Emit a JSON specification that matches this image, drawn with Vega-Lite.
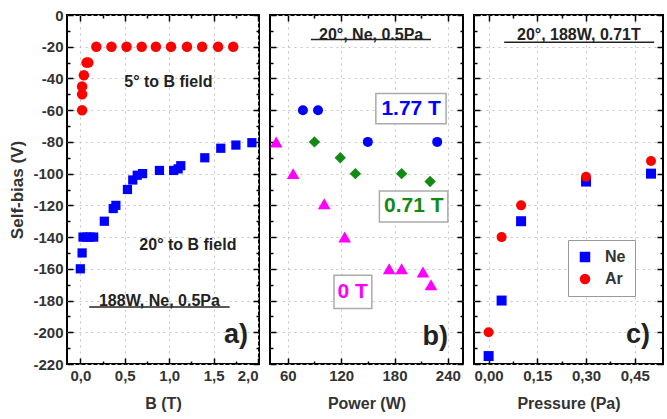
{
  "$schema": "https://vega.github.io/schema/vega-lite/v6.json",
  "background": "white",
  "padding": {"left": 7, "top": 7, "right": 0, "bottom": 0},
  "spacing": 11,
  "bounds": "flush",
  "resolve": {"scale": {"color": "independent", "shape": "independent"}, "legend": {"color": "independent", "shape": "independent"}},
  "config": {
    "font": "Liberation Sans",
    "view": {"stroke": "black", "strokeWidth": 2},
    "axis": {
      "domain": false,
      "labelFont": "Liberation Sans",
      "labelFontWeight": "bold",
      "labelFontSize": 15,
      "labelColor": "#333",
      "titleFont": "Liberation Sans",
      "titleFontWeight": "bold",
      "titleFontSize": 16,
      "titleColor": "#333",
      "tickColor": "black",
      "tickWidth": 1.5,
      "gridDash": [2, 4],
      "gridWidth": 1,
      "labelPadding": 10
    },
    "legend": {
      "labelFont": "Liberation Sans",
      "labelFontWeight": "bold",
      "labelFontSize": 16,
      "labelColor": "#333"
    },
    "text": {"font": "Liberation Sans", "fontWeight": "bold", "color": "#222"}
  },
  "datasets": {
    "a5": [
      {"B": 0.02, "V": -60}, {"B": 0.02, "V": -50}, {"B": 0.02, "V": -45}, {"B": 0.04, "V": -38},
      {"B": 0.07, "V": -30}, {"B": 0.09, "V": -30}, {"B": 0.18, "V": -20}, {"B": 0.35, "V": -20},
      {"B": 0.52, "V": -20}, {"B": 0.69, "V": -20}, {"B": 0.85, "V": -20}, {"B": 1.02, "V": -20},
      {"B": 1.2, "V": -20}, {"B": 1.37, "V": -20}, {"B": 1.55, "V": -20}, {"B": 1.72, "V": -20}
    ],
    "a20": [
      {"B": 0.0, "V": -160}, {"B": 0.02, "V": -150}, {"B": 0.03, "V": -140}, {"B": 0.07, "V": -140},
      {"B": 0.11, "V": -140}, {"B": 0.15, "V": -140}, {"B": 0.27, "V": -130}, {"B": 0.37, "V": -122},
      {"B": 0.4, "V": -120}, {"B": 0.53, "V": -110}, {"B": 0.59, "V": -104}, {"B": 0.64, "V": -101},
      {"B": 0.7, "V": -100}, {"B": 0.89, "V": -98}, {"B": 1.05, "V": -98}, {"B": 1.1, "V": -97},
      {"B": 1.13, "V": -95}, {"B": 1.4, "V": -90}, {"B": 1.58, "V": -84}, {"B": 1.75, "V": -82},
      {"B": 1.93, "V": -80.5}
    ],
    "aText": [
      {"x": 0.99, "y": -42, "t": "5° to B field"},
      {"x": 1.21, "y": -145, "t": "20° to B field"},
      {"x": 0.89, "y": -180, "t": "188W, Ne, 0.5Pa"}
    ],
    "aBig": [{"x": 1.75, "y": -202, "t": "a)"}],
    "aLine": [{"x": 0.1, "x2": 1.68, "y": -184}],
    "b177": [{"W": 77, "V": -60}, {"W": 94, "V": -60}, {"W": 150, "V": -80}, {"W": 228, "V": -80}],
    "b071": [{"W": 90, "V": -80}, {"W": 119, "V": -90}, {"W": 136, "V": -100}, {"W": 188, "V": -100}, {"W": 220, "V": -105}],
    "b0": [
      {"W": 47, "V": -80}, {"W": 66, "V": -100}, {"W": 101, "V": -119}, {"W": 124, "V": -140},
      {"W": 174, "V": -160}, {"W": 188, "V": -160}, {"W": 212, "V": -162}, {"W": 221, "V": -170}
    ],
    "bBox": [
      {"x": 159, "x2": 238, "y": -49.5, "y2": -68.5},
      {"x": 163, "x2": 240, "y": -111, "y2": -130.5},
      {"x": 112, "x2": 154.5, "y": -164, "y2": -185}
    ],
    "bLab": [
      {"x": 198.7, "y": -59, "t": "1.77 T"},
      {"x": 201.6, "y": -120.7, "t": "0.71 T"},
      {"x": 133, "y": -174.5, "t": "0 T"}
    ],
    "bText": [{"x": 153.7, "y": -12.6, "t": "20°, Ne, 0.5Pa"}],
    "bBig": [{"x": 225.7, "y": -203, "t": "b)"}],
    "bLine": [{"x": 86, "x2": 221, "y": -15.5}],
    "c": [
      {"P": 0.0, "V": -215, "gas": "Ne"}, {"P": 0.04, "V": -180, "gas": "Ne"}, {"P": 0.1, "V": -130, "gas": "Ne"},
      {"P": 0.3, "V": -105, "gas": "Ne"}, {"P": 0.5, "V": -100, "gas": "Ne"},
      {"P": 0.0, "V": -200, "gas": "Ar"}, {"P": 0.04, "V": -140, "gas": "Ar"}, {"P": 0.1, "V": -120, "gas": "Ar"},
      {"P": 0.3, "V": -102, "gas": "Ar"}, {"P": 0.5, "V": -92, "gas": "Ar"}
    ],
    "cText": [{"x": 0.278, "y": -12.6, "t": "20°,  188W, 0.71T"}],
    "cBig": [{"x": 0.46, "y": -202, "t": "c)"}],
    "cLine": [{"x": 0.048, "x2": 0.51, "y": -17.2}]
  },
  "hconcat": [
    {
      "width": 192,
      "height": 349,
      "resolve": {"axis": {"x": "independent", "y": "independent"}},
      "layer": [
        {
          "data": {"name": "a5"},
          "mark": {"type": "point", "shape": "circle", "filled": true, "size": 110, "color": "#ff0000", "opacity": 1},
          "encoding": {
            "x": {"field": "B", "type": "quantitative", "title": "B (T)",
              "scale": {"domain": [-0.15, 2.01], "nice": false, "zero": false},
              "axis": {"orient": "bottom", "values": [0, 0.25, 0.5, 0.75, 1, 1.25, 1.5, 1.75, 2],
                "labelExpr": "datum.value % 0.5 === 0 ? replace(format(datum.value, '.1f'), '.', ',') : ''",
                "tickSize": {"condition": {"test": "datum.value % 0.5 === 0", "value": -6}, "value": -3},
                "grid": true,
                "gridColor": {"condition": {"test": "datum.value % 0.5 === 0", "value": "#c4c4c4"}, "value": "transparent"},
                "titlePadding": 12}},
            "y": {"field": "V", "type": "quantitative", "title": "Self-bias (V)",
              "scale": {"domain": [-220, 0], "nice": false, "zero": false},
              "axis": {"orient": "left",
                "values": [-220, -210, -200, -190, -180, -170, -160, -150, -140, -130, -120, -110, -100, -90, -80, -70, -60, -50, -40, -30, -20, -10, 0],
                "labelExpr": "datum.value % 20 === 0 ? replace(datum.label, '−', '-') : ''",
                "tickSize": {"condition": {"test": "datum.value % 20 === 0", "value": -6}, "value": -3},
                "grid": true,
                "gridColor": {"condition": {"test": "datum.value % 20 === 0", "value": "#c4c4c4"}, "value": "transparent"},
                "titleFontSize": 17,
                "titlePadding": 6}}
          }
        },
        {
          "data": {"name": "a20"},
          "mark": {"type": "point", "shape": "square", "filled": true, "size": 85, "color": "#0000ff", "opacity": 1},
          "encoding": {
            "x": {"field": "B", "type": "quantitative", "scale": {"domain": [-0.15, 2.01], "nice": false, "zero": false}, "axis": null},
            "y": {"field": "V", "type": "quantitative", "scale": {"domain": [-220, 0], "nice": false, "zero": false}, "axis": null}
          }
        },
        {
          "data": {"name": "aText"},
          "mark": {"type": "text", "fontSize": 16, "align": "center", "baseline": "middle"},
          "encoding": {
            "x": {"field": "x", "type": "quantitative", "scale": {"domain": [-0.15, 2.01], "nice": false, "zero": false}, "axis": null},
            "y": {"field": "y", "type": "quantitative", "scale": {"domain": [-220, 0], "nice": false, "zero": false}, "axis": null},
            "text": {"field": "t"}
          }
        },
        {
          "data": {"name": "aBig"},
          "mark": {"type": "text", "fontSize": 27, "align": "center", "baseline": "middle"},
          "encoding": {
            "x": {"field": "x", "type": "quantitative", "scale": {"domain": [-0.15, 2.01], "nice": false, "zero": false}, "axis": null},
            "y": {"field": "y", "type": "quantitative", "scale": {"domain": [-220, 0], "nice": false, "zero": false}, "axis": null},
            "text": {"field": "t"}
          }
        },
        {
          "data": {"name": "aLine"},
          "mark": {"type": "rule", "color": "#222", "strokeWidth": 1.5},
          "encoding": {
            "x": {"field": "x", "type": "quantitative", "scale": {"domain": [-0.15, 2.01], "nice": false, "zero": false},
              "axis": {"orient": "top", "labels": false, "title": null, "grid": false,
                "values": [0, 0.25, 0.5, 0.75, 1, 1.25, 1.5, 1.75, 2],
                "tickSize": {"condition": {"test": "datum.value % 0.5 === 0", "value": -6}, "value": -3}}},
            "x2": {"field": "x2"},
            "y": {"field": "y", "type": "quantitative", "scale": {"domain": [-220, 0], "nice": false, "zero": false},
              "axis": {"orient": "right", "labels": false, "title": null, "grid": false,
                "values": [-220, -210, -200, -190, -180, -170, -160, -150, -140, -130, -120, -110, -100, -90, -80, -70, -60, -50, -40, -30, -20, -10, 0],
                "tickSize": {"condition": {"test": "datum.value % 20 === 0", "value": -6}, "value": -3}}}
          }
        }
      ]
    },
    {
      "width": 193,
      "height": 349,
      "resolve": {"axis": {"x": "independent", "y": "independent"}},
      "layer": [
        {
          "data": {"name": "b177"},
          "mark": {"type": "point", "shape": "circle", "filled": true, "size": 100, "color": "#0000ff", "opacity": 1},
          "encoding": {
            "x": {"field": "W", "type": "quantitative", "title": "Power (W)",
              "scale": {"domain": [40, 257], "nice": false, "zero": false},
              "axis": {"orient": "bottom", "values": [60, 90, 120, 150, 180, 210, 240],
                "labelExpr": "datum.value % 60 === 0 ? datum.label : ''",
                "tickSize": {"condition": {"test": "datum.value % 60 === 0", "value": -6}, "value": -3},
                "grid": true,
                "gridColor": {"condition": {"test": "datum.value % 60 === 0", "value": "#c4c4c4"}, "value": "transparent"},
                "titlePadding": 12}},
            "y": {"field": "V", "type": "quantitative", "title": null,
              "scale": {"domain": [-220, 0], "nice": false, "zero": false},
              "axis": {"orient": "left", "labels": false,
                "values": [-220, -210, -200, -190, -180, -170, -160, -150, -140, -130, -120, -110, -100, -90, -80, -70, -60, -50, -40, -30, -20, -10, 0],
                "tickSize": {"condition": {"test": "datum.value % 20 === 0", "value": -6}, "value": -3},
                "grid": true,
                "gridColor": {"condition": {"test": "datum.value % 20 === 0", "value": "#c4c4c4"}, "value": "transparent"}}}
          }
        },
        {
          "data": {"name": "b071"},
          "mark": {"type": "point", "shape": "diamond", "filled": true, "size": 130, "color": "#138a13", "opacity": 1},
          "encoding": {
            "x": {"field": "W", "type": "quantitative", "scale": {"domain": [40, 257], "nice": false, "zero": false}, "axis": null},
            "y": {"field": "V", "type": "quantitative", "scale": {"domain": [-220, 0], "nice": false, "zero": false}, "axis": null}
          }
        },
        {
          "data": {"name": "b0"},
          "mark": {"type": "point", "shape": "triangle-up", "filled": true, "size": 160, "color": "#ff00ff", "opacity": 1},
          "encoding": {
            "x": {"field": "W", "type": "quantitative", "scale": {"domain": [40, 257], "nice": false, "zero": false}, "axis": null},
            "y": {"field": "V", "type": "quantitative", "scale": {"domain": [-220, 0], "nice": false, "zero": false}, "axis": null}
          }
        },
        {
          "data": {"name": "bBox"},
          "mark": {"type": "rect", "fill": "white", "stroke": "#aaa", "strokeWidth": 1.5},
          "encoding": {
            "x": {"field": "x", "type": "quantitative", "scale": {"domain": [40, 257], "nice": false, "zero": false}, "axis": null},
            "x2": {"field": "x2"},
            "y": {"field": "y", "type": "quantitative", "scale": {"domain": [-220, 0], "nice": false, "zero": false}, "axis": null},
            "y2": {"field": "y2"}
          }
        },
        {
          "data": {"name": "bLab"},
          "mark": {"type": "text", "fontSize": 21, "align": "center", "baseline": "middle"},
          "encoding": {
            "x": {"field": "x", "type": "quantitative", "scale": {"domain": [40, 257], "nice": false, "zero": false}, "axis": null},
            "y": {"field": "y", "type": "quantitative", "scale": {"domain": [-220, 0], "nice": false, "zero": false}, "axis": null},
            "text": {"field": "t"},
            "color": {"field": "t", "type": "nominal", "legend": null,
              "scale": {"domain": ["1.77 T", "0.71 T", "0 T"], "range": ["#0000ff", "#138a13", "#ff00ff"]}}
          }
        },
        {
          "data": {"name": "bText"},
          "mark": {"type": "text", "fontSize": 16, "align": "center", "baseline": "middle"},
          "encoding": {
            "x": {"field": "x", "type": "quantitative", "scale": {"domain": [40, 257], "nice": false, "zero": false}, "axis": null},
            "y": {"field": "y", "type": "quantitative", "scale": {"domain": [-220, 0], "nice": false, "zero": false}, "axis": null},
            "text": {"field": "t"}
          }
        },
        {
          "data": {"name": "bBig"},
          "mark": {"type": "text", "fontSize": 27, "align": "center", "baseline": "middle"},
          "encoding": {
            "x": {"field": "x", "type": "quantitative", "scale": {"domain": [40, 257], "nice": false, "zero": false}, "axis": null},
            "y": {"field": "y", "type": "quantitative", "scale": {"domain": [-220, 0], "nice": false, "zero": false}, "axis": null},
            "text": {"field": "t"}
          }
        },
        {
          "data": {"name": "bLine"},
          "mark": {"type": "rule", "color": "#222", "strokeWidth": 1.5},
          "encoding": {
            "x": {"field": "x", "type": "quantitative", "scale": {"domain": [40, 257], "nice": false, "zero": false},
              "axis": {"orient": "top", "labels": false, "title": null, "grid": false,
                "values": [60, 90, 120, 150, 180, 210, 240],
                "tickSize": {"condition": {"test": "datum.value % 60 === 0", "value": -6}, "value": -3}}},
            "x2": {"field": "x2"},
            "y": {"field": "y", "type": "quantitative", "scale": {"domain": [-220, 0], "nice": false, "zero": false},
              "axis": {"orient": "right", "labels": false, "title": null, "grid": false,
                "values": [-220, -210, -200, -190, -180, -170, -160, -150, -140, -130, -120, -110, -100, -90, -80, -70, -60, -50, -40, -30, -20, -10, 0],
                "tickSize": {"condition": {"test": "datum.value % 20 === 0", "value": -6}, "value": -3}}}
          }
        }
      ]
    },
    {
      "width": 189,
      "height": 349,
      "resolve": {"axis": {"x": "independent", "y": "independent"}},
      "layer": [
        {
          "data": {"name": "c"},
          "mark": {"type": "point", "filled": true, "size": 100, "opacity": 1},
          "encoding": {
            "x": {"field": "P", "type": "quantitative", "title": "Pressure (Pa)",
              "scale": {"domain": [-0.045, 0.537], "nice": false, "zero": false},
              "axis": {"orient": "bottom", "values": [0, 0.075, 0.15, 0.225, 0.3, 0.375, 0.45],
                "labelExpr": "abs(datum.value/0.15 - round(datum.value/0.15)) < 0.001 ? replace(format(datum.value, '.2f'), '.', ',') : ''",
                "tickSize": {"condition": {"test": "abs(datum.value/0.15 - round(datum.value/0.15)) < 0.001", "value": -6}, "value": -3},
                "grid": true,
                "gridColor": {"condition": {"test": "abs(datum.value/0.15 - round(datum.value/0.15)) < 0.001", "value": "#c4c4c4"}, "value": "transparent"},
                "titlePadding": 12}},
            "y": {"field": "V", "type": "quantitative", "title": null,
              "scale": {"domain": [-220, 0], "nice": false, "zero": false},
              "axis": {"orient": "left", "labels": false,
                "values": [-220, -210, -200, -190, -180, -170, -160, -150, -140, -130, -120, -110, -100, -90, -80, -70, -60, -50, -40, -30, -20, -10, 0],
                "tickSize": {"condition": {"test": "datum.value % 20 === 0", "value": -6}, "value": -3},
                "grid": true,
                "gridColor": {"condition": {"test": "datum.value % 20 === 0", "value": "#c4c4c4"}, "value": "transparent"}}},
            "color": {"field": "gas", "type": "nominal",
              "scale": {"domain": ["Ne", "Ar"], "range": ["#0000ff", "#ff0000"]},
              "legend": {"title": null, "orient": "none", "legendX": 94, "legendY": 225,
                "strokeColor": "#999", "fillColor": "white", "padding": 9, "symbolSize": 110, "rowPadding": 6, "labelOffset": 12, "symbolStrokeWidth": 0}},
            "shape": {"field": "gas", "type": "nominal",
              "scale": {"domain": ["Ne", "Ar"], "range": ["square", "circle"]},
              "legend": {"title": null, "orient": "none", "legendX": 94, "legendY": 225,
                "strokeColor": "#999", "fillColor": "white", "padding": 9, "symbolSize": 110, "rowPadding": 6, "labelOffset": 12, "symbolStrokeWidth": 0}}
          }
        },
        {
          "data": {"name": "cText"},
          "mark": {"type": "text", "fontSize": 16, "align": "center", "baseline": "middle"},
          "encoding": {
            "x": {"field": "x", "type": "quantitative", "scale": {"domain": [-0.045, 0.537], "nice": false, "zero": false}, "axis": null},
            "y": {"field": "y", "type": "quantitative", "scale": {"domain": [-220, 0], "nice": false, "zero": false}, "axis": null},
            "text": {"field": "t"}
          }
        },
        {
          "data": {"name": "cBig"},
          "mark": {"type": "text", "fontSize": 27, "align": "center", "baseline": "middle"},
          "encoding": {
            "x": {"field": "x", "type": "quantitative", "scale": {"domain": [-0.045, 0.537], "nice": false, "zero": false}, "axis": null},
            "y": {"field": "y", "type": "quantitative", "scale": {"domain": [-220, 0], "nice": false, "zero": false}, "axis": null},
            "text": {"field": "t"}
          }
        },
        {
          "data": {"name": "cLine"},
          "mark": {"type": "rule", "color": "#222", "strokeWidth": 1.5},
          "encoding": {
            "x": {"field": "x", "type": "quantitative", "scale": {"domain": [-0.045, 0.537], "nice": false, "zero": false},
              "axis": {"orient": "top", "labels": false, "title": null, "grid": false,
                "values": [0, 0.075, 0.15, 0.225, 0.3, 0.375, 0.45],
                "tickSize": {"condition": {"test": "abs(datum.value/0.15 - round(datum.value/0.15)) < 0.001", "value": -6}, "value": -3}}},
            "x2": {"field": "x2"},
            "y": {"field": "y", "type": "quantitative", "scale": {"domain": [-220, 0], "nice": false, "zero": false},
              "axis": {"orient": "right", "labels": false, "title": null, "grid": false,
                "values": [-220, -210, -200, -190, -180, -170, -160, -150, -140, -130, -120, -110, -100, -90, -80, -70, -60, -50, -40, -30, -20, -10, 0],
                "tickSize": {"condition": {"test": "datum.value % 20 === 0", "value": -6}, "value": -3}}}
          }
        }
      ]
    }
  ]
}
